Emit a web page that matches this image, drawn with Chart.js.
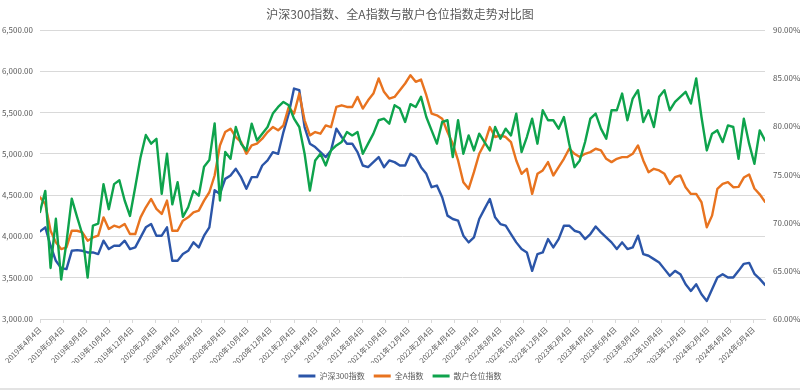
<!DOCTYPE html>
<html><head><meta charset="utf-8">
<script src="https://cdn.jsdelivr.net/npm/chart.js@4.4.1/dist/chart.umd.min.js"></script>
<style>html,body{margin:0;padding:0;background:#fff;}#wrap{width:800px;height:390px;}</style>
</head><body><div id="wrap"><canvas id="c" width="800" height="390"></canvas></div>
<script>
const chartTitle = '沪深300指数、全A指数与散户仓位指数走势对比图';
const seriesNames = ['沪深300指数', '全A指数', '散户仓位指数'];
const startDate = [2019, 4, 4];
const stepDays = 14;
const csi300 = [4061,4110,3887,3705,3616,3604,3826,3834,3826,3806,3806,3786,3948,3847,3887,3887,3948,3847,3867,3988,
4110,4150,4009,4009,4110,3705,3705,3786,3826,3928,3867,4009,4110,4560,4515,4697,4738,4819,4718,4576,
4718,4718,4859,4920,5021,5001,5264,5487,5791,5771,5325,5123,5082,5021,4961,5042,5305,5204,5123,5123,
5021,4859,4839,4900,4961,4839,4920,4900,4859,4859,5000,4961,4839,4758,4596,4616,4474,4252,4211,4191,
4009,3928,3988,4211,4333,4454,4231,4150,4130,4029,3928,3847,3806,3583,3786,3806,3968,3867,3968,4130,
4130,4069,4049,3968,4029,4120,4049,3988,3928,3847,3928,3847,3867,4009,3786,3766,3725,3685,3604,3523,
3583,3543,3421,3340,3421,3300,3219,3360,3502,3543,3502,3502,3583,3668,3680,3547,3486,3413];
const allA = [4474,4393,4069,3928,3847,3867,4069,4069,4049,3948,3988,4009,4231,4090,4130,4110,4151,4029,4029,4231,
4353,4454,4333,4272,4434,4069,4069,4191,4231,4292,4312,4434,4535,4738,5102,5264,5305,5204,5143,5001,
5102,5123,5183,5264,5325,5285,5345,5568,5487,5730,5406,5224,5264,5244,5345,5325,5568,5588,5568,5568,
5690,5548,5649,5730,5913,5751,5670,5690,5771,5852,5953,5872,5900,5710,5487,5467,5426,5264,5123,4920,
4657,4576,4778,5001,5123,5325,5204,5224,5204,5143,4920,4758,4819,4515,4758,4799,4900,4738,4839,4940,
5062,5001,4961,5001,5021,5062,5042,4940,4900,4940,4961,4961,5001,5102,4920,4778,4819,4799,4758,4636,
4718,4738,4596,4515,4515,4414,4110,4252,4576,4636,4657,4596,4600,4713,4750,4580,4510,4420];
const retailPos = [71.1,73.3,65.3,70.4,64.1,67.95,72.5,70.6,68.8,64.3,69.7,69.9,74.0,71.4,74.0,74.4,72.3,70.7,73.7,76.8,
79.1,78.2,78.7,73.0,77.15,71.9,74.2,70.6,71.6,73.3,72.8,75.8,76.5,80.3,72.3,77.33,76.63,79.93,78.2,77.5,
80.28,78.54,79.24,79.93,81.32,82.01,82.53,82.19,80.8,79.93,77.15,73.33,76.46,77.15,75.94,77.5,78.02,78.37,79.41,79.06,
79.41,77.15,78.2,79.24,80.63,80.8,80.28,82.19,81.84,80.45,82.3,82.01,83.06,80.97,79.58,78.2,80.45,80.63,76.8,80.63,
77.15,79.06,77.5,79.24,78.37,77.5,79.93,78.72,79.76,79.06,81.32,77.33,78.89,80.8,78.2,81.67,80.63,80.63,79.76,80.97,
78.2,75.76,76.46,78.37,80.8,81.32,79.76,78.72,81.67,81.67,83.4,80.63,82.88,83.75,80.45,81.67,79.93,83.06,83.75,81.67,
82.53,83.06,83.58,82.36,84.97,80.97,77.5,79.24,79.58,78.37,80.1,79.93,76.63,80.8,78.2,76.11,79.58,78.54];
const tickLabels = ['2019年4月4日','2019年6月4日','2019年8月4日','2019年10月4日','2019年12月4日',
'2020年2月4日','2020年4月4日','2020年6月4日','2020年8月4日','2020年10月4日','2020年12月4日',
'2021年2月4日','2021年4月4日','2021年6月4日','2021年8月4日','2021年10月4日','2021年12月4日',
'2022年2月4日','2022年4月4日','2022年6月4日','2022年8月4日','2022年10月4日','2022年12月4日',
'2023年2月4日','2023年4月4日','2023年6月4日','2023年8月4日','2023年10月4日','2023年12月4日',
'2024年2月4日','2024年4月4日','2024年6月4日'];
const leftAxisRange = [3000, 6500, 500];
const rightAxisRange = [60, 90, 5];
const colors = ['#2B55A8', '#E8731F', '#0EA34C'];

const FONT = "'Noto Sans CJK SC', 'Noto Sans', sans-serif";
const DAY = 86400000;
const t0 = Date.UTC(startDate[0], startDate[1] - 1, startDate[2]);
function labelDay(s) {
  const m = s.match(/(\d+)年(\d+)月(\d+)日/);
  return Math.round((Date.UTC(+m[1], +m[2] - 1, +m[3]) - t0) / DAY);
}
const tickDays = tickLabels.map(labelDay);
const labelByDay = {};
tickDays.forEach((d, i) => labelByDay[d] = tickLabels[i]);
const toPts = arr => arr.map((v, i) => ({x: i * stepDays, y: v}));
const lastDay = (csi300.length - 1) * stepDays;

const fmtThousands = v => v.toLocaleString('en-US', {minimumFractionDigits: 2, maximumFractionDigits: 2});

const frame = {
  id: 'frame',
  afterDraw(chart) {
    const c = chart.ctx;
    c.save();
    c.fillStyle = '#e3e3e3';
    c.fillRect(0, chart.height - 2, chart.width, 2);
    c.restore();
  }
};

new Chart(document.getElementById('c'), {
  type: 'line',
  plugins: [frame],
  data: {
    datasets: [
      {label: seriesNames[0], data: toPts(csi300), borderColor: colors[0], backgroundColor: colors[0], yAxisID: 'yL', order: 3},
      {label: seriesNames[1], data: toPts(allA), borderColor: colors[1], backgroundColor: colors[1], yAxisID: 'yL', order: 2},
      {label: seriesNames[2], data: toPts(retailPos), borderColor: colors[2], backgroundColor: colors[2], yAxisID: 'yR', order: 1}
    ]
  },
  options: {
    responsive: false,
    animation: false,
    devicePixelRatio: 1,
    layout: {padding: 0},
    elements: {
      line: {borderWidth: 2.4, tension: 0, borderJoinStyle: 'round', borderCapStyle: 'round'},
      point: {radius: 0}
    },
    plugins: {
      tooltip: {enabled: false},
      title: {
        display: true, text: chartTitle, color: '#595959',
        font: {family: FONT, size: 12, weight: 'normal'},
        padding: {top: 7, bottom: 8.6}
      },
      legend: {
        position: 'bottom',
        labels: {
          color: '#595959', font: {family: FONT, size: 8},
          boxWidth: 17, boxHeight: 3, padding: 9,
          sort: (a, b) => a.datasetIndex - b.datasetIndex,
          generateLabels: (chart) => chart.data.datasets.map((ds, i) => ({
            text: ds.label, fillStyle: ds.borderColor, strokeStyle: ds.borderColor,
            lineWidth: 0, hidden: false, datasetIndex: i, fontColor: '#595959'
          }))
        }
      }
    },
    scales: {
      x: {
        type: 'linear', min: 0, max: lastDay,
        afterBuildTicks: (s) => { s.ticks = tickDays.map(v => ({value: v})); },
        afterFit: (s) => { s.height = 44; },
        grid: {drawOnChartArea: false, drawTicks: true, tickLength: 4, color: '#d9d9d9'},
        border: {display: true, color: '#d9d9d9'},
        ticks: {
          autoSkip: false, minRotation: 45, maxRotation: 45, padding: 2,
          color: '#595959', font: {family: FONT, size: 7.5},
          callback: (v) => labelByDay[v] || ''
        }
      },
      yL: {
        position: 'left', min: leftAxisRange[0], max: leftAxisRange[1],
        afterFit: (s) => { s.width = 40; },
        grid: {color: '#d9d9d9', drawTicks: false},
        border: {display: false},
        ticks: {stepSize: leftAxisRange[2], padding: 7, color: '#595959', font: {family: FONT, size: 8},
          callback: (v) => fmtThousands(v)}
      },
      yR: {
        position: 'right', min: rightAxisRange[0], max: rightAxisRange[1],
        afterFit: (s) => { s.width = 35; },
        grid: {drawOnChartArea: false, drawTicks: false},
        border: {display: false},
        ticks: {stepSize: rightAxisRange[2], padding: 8, color: '#595959', font: {family: FONT, size: 8},
          callback: (v) => v.toFixed(2) + '%'}
      }
    }
  }
});
</script>
</body></html>
